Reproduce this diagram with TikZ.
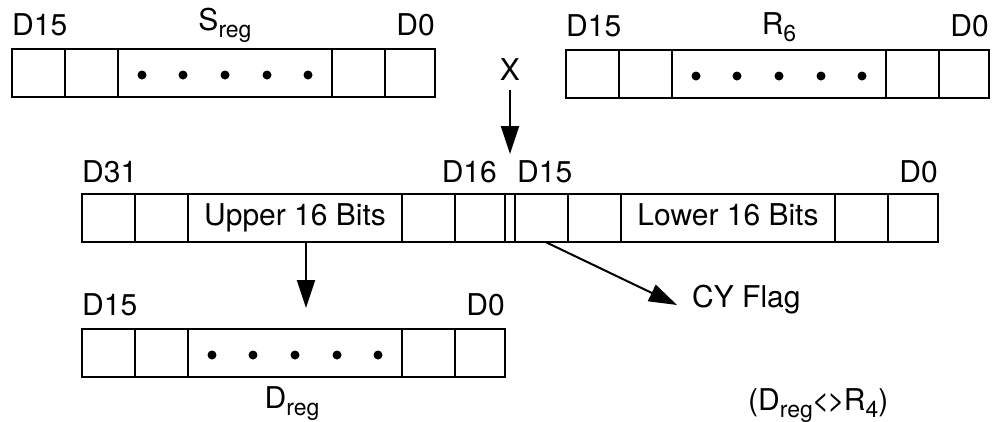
\documentclass[tikz,border=0pt]{standalone}
\usepackage{fontspec}
\setmainfont{TeX Gyre Heros}
\usetikzlibrary{positioning,arrows.meta}

\newcommand{\lowtext}[1]{\raisebox{-7pt}{\fontsize{23}{23}\selectfont #1}}

% a register: five cells, the middle one wide
\newcommand{\register}[3]{%
  \node[cell, minimum width=53pt, #2] (#1a) {};
  \node[cell, minimum width=53pt, right=0pt of #1a] (#1b) {};
  \node[cell, minimum width=214pt, right=0pt of #1b] (#1c) {#3};
  \node[cell, minimum width=53pt, right=0pt of #1c] (#1d) {};
  \node[cell, minimum width=50pt, right=0pt of #1d] (#1e) {};
}

\tikzset{
  cell/.style={draw, line width=2pt, minimum height=48pt, inner sep=0pt, outer sep=0pt,
    font=\fontsize{30}{34}\selectfont, text height=21pt, text depth=6pt},
  lbl/.style={font=\fontsize{30}{34}\selectfont, inner sep=0pt},
  arr/.style={line width=2pt, -{Triangle[length=28pt, width=18pt]}}
}

\begin{document}
\begin{tikzpicture}[x=1pt, y=-1pt]
\useasboundingbox (0,0) rectangle (994,421);

% top registers
\register{s}{anchor=west, at={(12,73)}}{}
\register{r}{anchor=west, at={(566,74)}}{}

% 32 bit result
\register{u}{anchor=west, at={(82,218)}}{Upper 16 Bits}
\node[cell, minimum width=10pt, right=0pt of ue] (mid) {};
\register{l}{right=0pt of mid}{Lower 16 Bits}

% destination
\register{d}{anchor=west, at={(82,353)}}{}

\foreach \rname in {s,r,d}
  \foreach \dx in {-83,-42,0,42,83}
    \fill ([xshift=\dx pt, yshift=-2pt]\rname c.center) circle (4.5pt);

\node[lbl, anchor=base west] (sD15) at ([yshift=14pt]sa.north west) {D15};
\node[lbl, anchor=base east] (sD0) at ([yshift=14pt]se.north east) {D0};
\node[lbl, anchor=base] (sname) at ([yshift=19pt]sc.north) {S\lowtext{reg}};

\node[lbl, anchor=base west] (rD15) at ([yshift=14pt]ra.north west) {D15};
\node[lbl, anchor=base east] (rD0) at ([yshift=14pt]re.north east) {D0};
\node[lbl, anchor=base] (rname) at ([yshift=16pt]rc.north) {R\lowtext{6}};

\node[lbl, anchor=base west] (uD31) at ([yshift=12pt]ua.north west) {D31};
\node[lbl, anchor=base east] (uD16) at ([xshift=-8pt, yshift=12pt]ue.north east) {D16};
\node[lbl, anchor=base west] (lD15) at ([xshift=2pt, yshift=12pt]la.north west) {D15};
\node[lbl, anchor=base east] (lD0) at ([yshift=12pt]le.north east) {D0};

\node[lbl, anchor=base west] (dD15) at ([yshift=14pt]da.north west) {D15};
\node[lbl, anchor=base east] (dD0) at ([yshift=14pt]de.north east) {D0};
\node[lbl, anchor=base] (dname) at ([xshift=-3pt, yshift=-31pt]dc.south) {D\lowtext{reg}};

\node[lbl, anchor=base] (xin) at ([yshift=114pt]mid.north) {X};
\node[lbl, anchor=base west] (cy) at (692,307) {CY Flag};
\node[lbl, anchor=base west] (note) at (748,410) {(D\lowtext{reg}\kern-1pt<\kern-2pt>\kern-1ptR\lowtext{4})};

\coordinate (xend) at ([yshift=40pt]mid.north);
\coordinate (dtip) at ([xshift=11pt, yshift=21pt]dc.north);
\coordinate (cytip) at ([xshift=-15pt, yshift=2pt]cy.base west);

\draw[arr] ([yshift=-10pt]xin.south) -- (xend);
\draw[arr] ([xshift=11pt]uc.south) -- (dtip);
\draw[arr] ([xshift=4pt]la.south) -- (cytip);
\end{tikzpicture}
\end{document}
